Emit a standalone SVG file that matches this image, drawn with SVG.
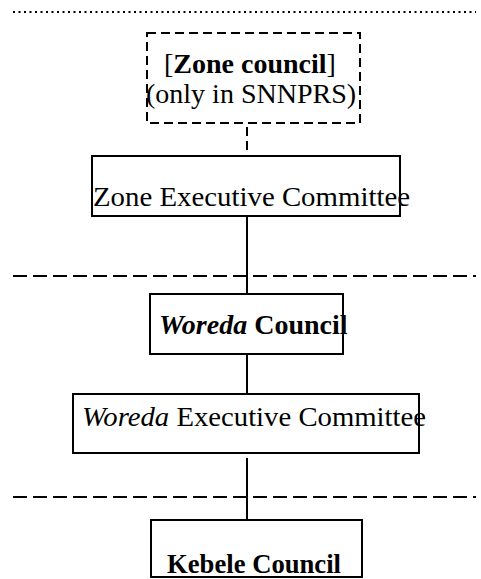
<svg xmlns="http://www.w3.org/2000/svg" width="481" height="579" viewBox="0 0 481 579">
<style>
.box{fill:#fff;stroke:#000;stroke-width:2}
.dbox{fill:#fff;stroke:#000;stroke-width:2;stroke-dasharray:9 5}
.t{font-family:"Liberation Serif","Times New Roman",serif;font-size:28px;fill:#000}
.b{font-weight:bold}
.i{font-style:italic}
.sep{stroke:#000;stroke-width:2;stroke-dasharray:14 6;fill:none}
.dot{stroke:#000;stroke-width:2;stroke-dasharray:2 3.5;fill:none}
.c{stroke:#000;stroke-width:2;fill:none}
</style>
<line class="dot" x1="13" y1="12" x2="476" y2="12"/>
<line class="sep" x1="13" y1="276" x2="476" y2="276"/>
<line class="sep" x1="13" y1="497" x2="476" y2="497"/>
<g id="connectors">
<line class="c" x1="247" y1="127" x2="247" y2="155" stroke-dasharray="9 5"/>
<line class="c" x1="247" y1="216" x2="247" y2="294"/>
<line class="c" x1="247" y1="354" x2="247" y2="394"/>
<line class="c" x1="247" y1="458" x2="247" y2="519"/>
</g>
<g id="zone-council">
<rect class="dbox" x="147" y="33" width="213" height="90"/>
<text class="t" x="164" y="73">[<tspan class="b">Zone council</tspan>]</text>
<text class="t" x="146" y="103">(only in SNNPRS)</text>
</g>
<g id="zone-exec">
<rect class="box" x="92" y="156" width="308" height="60"/>
<text class="t" x="93" y="206" textLength="317" lengthAdjust="spacingAndGlyphs">Zone Executive Committee</text>
</g>
<g id="woreda-council">
<rect class="box" x="150" y="294" width="193" height="60"/>
<text class="t b" x="159" y="334"><tspan class="i">Woreda</tspan> Council</text>
</g>
<g id="woreda-exec">
<rect class="box" x="73" y="394" width="346" height="59"/>
<text class="t" x="82" y="426" textLength="344" lengthAdjust="spacingAndGlyphs"><tspan class="i">Woreda</tspan> Executive Committee</text>
</g>
<g id="kebele-council">
<rect class="box" x="151" y="520" width="211" height="57"/>
<text class="t b" x="167" y="573" textLength="174" lengthAdjust="spacingAndGlyphs">Kebele Council</text>
</g>
</svg>
